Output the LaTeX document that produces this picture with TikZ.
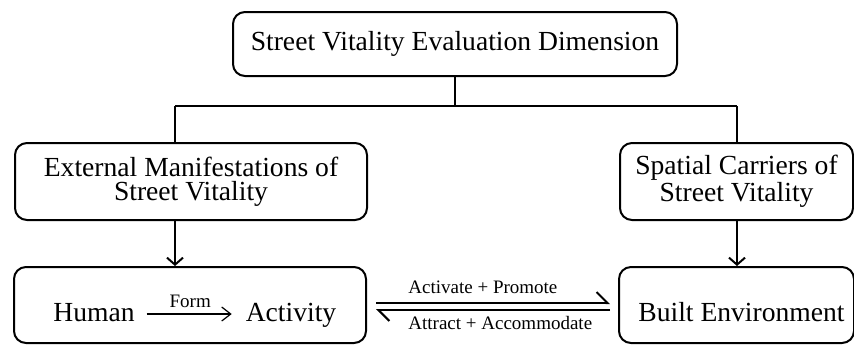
\documentclass[tikz,border=0pt]{standalone}
\usepackage{fontspec}
\setmainfont{Liberation Serif}
\usetikzlibrary{arrows.meta, positioning}

\begin{document}
\begin{tikzpicture}[x=0.5pt, y=-0.5pt,
    box/.style={draw, line width=1pt, rounded corners=6pt, align=center, inner sep=0pt, font=\fontsize{13.8}{12.2}\selectfont},
    big/.style={font=\fontsize{13.8}{12.2}\selectfont},
    small/.style={font=\fontsize{9.5}{11}\selectfont},
    conn/.style={line width=1pt}]
  \useasboundingbox (0,0) rectangle (854,345);

  \node[box, minimum width=222pt, minimum height=32pt] (dim) at (455,44) {Street Vitality Evaluation Dimension};
  \node[box, minimum width=176pt, minimum height=38.5pt] (ext) at (191,181.5) {External Manifestations of\\Street Vitality};
  \node[box, minimum width=116.5pt, minimum height=38.5pt] (spat) at (736.5,181.5) {Spatial Carriers of\\Street Vitality};
  \node[box, minimum width=176pt, minimum height=38pt] (act) at (190,305) {};
  \node[box, minimum width=117.5pt, minimum height=38pt] (built) at (736.5,305) {};

  \node[big, anchor=base] (hum) at (94,321) {Human};
  \node[big, anchor=base] (activ) at (291,321) {Activity};
  \node[big, anchor=base] (builttxt) at (741.5,321) {Built Environment};

  \coordinate (split) at (455,106);
  \coordinate (lbr) at (175,106);
  \coordinate (rbr) at (737,106);

  \draw[conn] (dim.south) -- (split);
  \draw[conn] (lbr) -- (rbr);
  \draw[conn] (lbr) -- (lbr |- ext.north);
  \draw[conn] (rbr) -- (rbr |- spat.north);
  \draw[conn, -{Straight Barb[length=3.5pt, width=8pt]}] (lbr |- ext.south) -- (lbr |- act.north);
  \draw[conn, -{Straight Barb[length=3.5pt, width=8pt]}] (rbr |- spat.south) -- (rbr |- built.north);

  \draw[line width=0.6pt, -{Straight Barb[length=4.5pt, width=7pt]}, shorten <=2.5pt, shorten >=3.5pt]
    ([yshift=3.5pt]hum.base east) -- ([yshift=3.5pt]activ.base west)
    node[small, midway, above, inner sep=3pt] {Form};

  \draw[conn, -{Straight Barb[left, length=5.5pt, width=11pt]}, shorten <=4.5pt, shorten >=4pt]
    ([yshift=1pt]act.east) -- ([yshift=1pt]built.west)
    node[small, pos=0.161, anchor=south west, inner xsep=0pt, inner ysep=4pt] {Activate + Promote};
  \draw[conn, -{Straight Barb[left, length=5.5pt, width=11pt]}, shorten <=4pt, shorten >=4.5pt]
    ([yshift=-2.5pt]built.west) -- ([yshift=-2.5pt]act.east)
    node[small, pos=0.839, anchor=north west, inner xsep=0pt, inner ysep=2.5pt] {Attract + Accommodate};
\end{tikzpicture}
\end{document}
